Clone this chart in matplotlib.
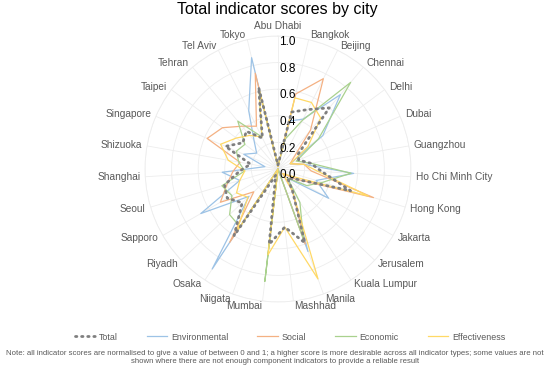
import numpy as np
import matplotlib
matplotlib.use("Agg")
import matplotlib.pyplot as plt

plt.rcParams['font.family'] = ['Liberation Sans', 'DejaVu Sans']

cities = ["Abu Dhabi", "Bangkok", "Beijing", "Chennai", "Delhi", "Dubai", "Guangzhou",
          "Ho Chi Minh City", "Hong Kong", "Jakarta", "Jerusalem", "Kuala Lumpur", "Manila",
          "Mashhad", "Mumbai", "Niigata", "Osaka", "Riyadh", "Sapporo", "Seoul", "Shanghai",
          "Shizuoka", "Singapore", "Taipei", "Tehran", "Tel Aviv", "Tokyo"]

total = [0.03, 0.44, 0.50, 0.60, 0.19, 0.17, 0.25, 0.33, 0.57, 0.15, 0.10, 0.20, 0.59,
         0.44, 0.57, 0.05, 0.60, 0.37, 0.44, 0.42, 0.29, 0.21, 0.43, 0.33, 0.37, 0.26, 0.63]
environmental = [0.02, 0.37, 0.42, 0.73, 0.42, 0.10, 0.20, 0.57, 0.30, 0.44, 0.10, 0.20, 0.66,
                 0.00, 0.00, 0.00, 0.90, 0.30, 0.67, 0.30, 0.42, 0.10, 0.28, 0.20, 0.28, 0.49, 0.86]
social = [0.02, 0.58, 0.76, 0.38, 0.15, 0.10, 0.20, 0.25, 0.75, 0.15, 0.05, 0.20, 0.60,
          0.00, 0.57, 0.00, 0.66, 0.25, 0.50, 0.40, 0.34, 0.29, 0.58, 0.52, 0.42, 0.36, 0.74]
economic = [0.02, 0.23, 0.41, 0.85, 0.38, 0.15, 0.25, 0.55, 0.35, 0.25, 0.10, 0.30, 0.56,
            0.00, 0.85, 0.00, 0.52, 0.50, 0.40, 0.44, 0.25, 0.30, 0.34, 0.31, 0.47, 0.27, 0.62]
effectiveness = [0.02, 0.55, 0.56, 0.50, 0.28, 0.10, 0.20, 0.30, 0.71, 0.10, 0.05, 0.20, 0.88,
                 0.44, 0.65, 0.00, 0.57, 0.31, 0.36, 0.30, 0.25, 0.38, 0.47, 0.39, 0.33, 0.27, 0.61]

n = len(cities)
angles = np.linspace(0, 2 * np.pi, n, endpoint=False)
ang_closed = np.append(angles, angles[0])

def closed(v):
    return np.append(v, v[0])

fig = plt.figure(figsize=(5.5, 3.7), dpi=100)
fig.set_facecolor('white')
# centre at (278, 169) px, radius 133 px
ax = fig.add_axes([0.2636, 0.1838, 0.4836, 0.7189], projection='polar')
ax.set_theta_zero_location('N')
ax.set_theta_direction(-1)
ax.set_ylim(0, 1.0)

series = [
    ("Environmental", environmental, '#9DC3E6'),
    ("Social", social, '#F4B183'),
    ("Economic", economic, '#A9D18E'),
    ("Effectiveness", effectiveness, '#FFD966'),
]
handles = []
h_total, = ax.plot(ang_closed, closed(total), color='#7F7F7F', lw=2.0,
                   linestyle=(0, (0.5, 1.7)), dash_capstyle='round', label='Total', zorder=5)
handles.append(h_total)
for name, vals, col in series:
    h, = ax.plot(ang_closed, closed(vals), color=col, lw=0.9, label=name)
    handles.append(h)

# grid
ax.set_xticks(angles)
ax.set_xticklabels([])
ax.set_yticks([0.0, 0.2, 0.4, 0.6, 0.8, 1.0])
ax.set_yticklabels([])
ax.grid(color='#EDEDED', lw=0.6)
ax.spines['polar'].set_color('#EDEDED')
ax.spines['polar'].set_linewidth(0.6)

for r in [0.0, 0.2, 0.4, 0.6, 0.8, 1.0]:
    ax.annotate(f"{r:.1f}", xy=(0.0, r), xytext=(1, -4.5), textcoords='offset points',
                fontsize=8.5, color='black', ha='left', va='center', zorder=6)

# category labels around the outside
lab_r = 138 / 266
for name, a in zip(cities, angles):
    d = np.degrees(a)
    x = 0.5 + np.sin(a) * lab_r
    y = 0.5 + np.cos(a) * lab_r
    if d < 1:
        ha, va = 'center', 'bottom'
    elif d < 180:
        ha, va = 'left', 'center'
    else:
        ha, va = 'right', 'center'
    ax.text(x, y, name, transform=ax.transAxes, fontsize=7.3, color='#595959',
            ha=ha, va=va)

fig.text(0.505, 0.973, "Total indicator scores by city", ha='center', va='center',
         fontsize=11.5, color='black')

fig.legend(handles=handles, loc='center', bbox_to_anchor=(0.527, 0.089), ncol=5,
           frameon=False, fontsize=6.4, labelcolor='#595959', handlelength=2.3,
           columnspacing=3.3, handletextpad=0.4)

fig.text(0.5, 0.034, "Note: all indicator scores are normalised to give a value of between 0 and 1; "
         "a higher score is more desirable across all indicator types; some values are not\n"
         "shown where there are not enough component indicators to provide a reliable result",
         ha='center', va='center', fontsize=5.6, color='#595959', linespacing=1.15)

fig.savefig("out.png", dpi=100, facecolor='white')
